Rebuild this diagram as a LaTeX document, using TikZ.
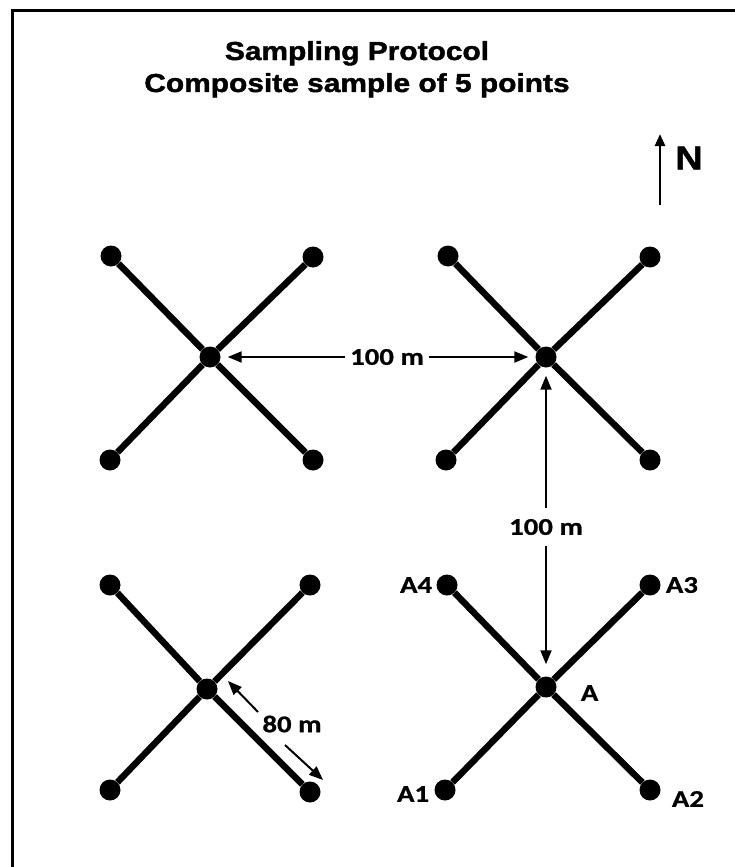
\documentclass[tikz,border=0pt]{standalone}
\usepackage{fontspec}
\newfontfamily\titlefont[FakeStretch=1.15, FakeBold=1.6]{Liberation Sans Bold}
\newfontfamily\labelfont[FakeStretch=1.2, FakeBold=0.8]{Carlito Bold}
\setmainfont{Liberation Sans}
\usetikzlibrary{arrows.meta,positioning}

\begin{document}
\begin{tikzpicture}[
x=1pt, y=-1pt,
dot/.style={circle, fill=black, inner sep=0pt, minimum size=21pt},
arm/.style={line width=6.5pt},
dim/.style={-{Triangle[length=14pt,width=11pt]}, line width=2pt},
ttl/.style={font=\titlefont\fontsize{26}{30}\selectfont, inner sep=0pt, anchor=base},
lbl/.style={font=\labelfont\fontsize{24}{24}\selectfont, inner sep=1pt},
dimlbl/.style={lbl, inner xsep=5pt, inner ysep=11pt}
]
\useasboundingbox (0,0) rectangle (735,867);
\clip (0,0) rectangle (735,867);
\draw[line width=3pt] (12,900) -- (12,11) -- (760,11);

% title
\node[ttl] (title) at (357,60) {Sampling Protocol};
\node[ttl] (subtitle) at (357,92) {Composite sample of 5 points};

% north arrow
\coordinate (ntail) at (660,205);
\coordinate (ntip) at (660,134);
\draw[-{Triangle[length=12pt,width=10pt]}, line width=2.5pt] (ntail) -- (ntip);
\node[font=\titlefont\fontsize{33}{33}\selectfont, inner sep=0pt] (north) at (689,158) {N};

% north-west plot
\node[dot] (nwc) at (210,357) {};
\node[dot] (nw1) at (110,460) {};
\node[dot] (nw2) at (313,460) {};
\node[dot] (nw3) at (313,257) {};
\node[dot] (nw4) at (111,256) {};

% north-east plot
\node[dot] (nec) at (546,357) {};
\node[dot] (ne1) at (446,460) {};
\node[dot] (ne2) at (650,460) {};
\node[dot] (ne3) at (650,257) {};
\node[dot] (ne4) at (448,256) {};

% south-west plot
\node[dot] (swc) at (207,689) {};
\node[dot] (sw1) at (110,790) {};
\node[dot] (sw2) at (310,792) {};
\node[dot] (sw3) at (310,585) {};
\node[dot] (sw4) at (110,585) {};

% south-east plot (A)
\node[dot] (sec) at (546,687) {};
\node[dot] (se1) at (445,790) {};
\node[dot] (se2) at (650,790) {};
\node[dot] (se3) at (650,585) {};
\node[dot] (se4) at (447,585) {};

\foreach \p in {nw,ne,sw,se}
  \foreach \i in {1,2,3,4}
    \draw[arm] (\p c) -- (\p\i);

% point labels
\node[lbl, left=3pt of se4] (a4) {A4};
\node[lbl, right=4pt of se3] (a3) {A3};
\node[lbl, right=23pt of sec, yshift=-6pt] (a) {A};
\node[lbl, left=4pt of se1, yshift=-4pt] (a1) {A1};
\node[lbl, right=10pt of se2, yshift=-9pt] (a2) {A2};

% distances
\node[dimlbl] (dh) at (387,357) {100 m};
\draw[dim, shorten >=7pt] (dh) -- (nwc);
\draw[dim, shorten >=7pt] (dh) -- (nec);

\node[dimlbl] (dv) at (546,527) {100 m};
\draw[dim, shorten >=8pt] (dv) -- (nec);
\draw[dim, shorten >=12pt] (dv) -- (sec);

\node[lbl] (d80) at (292,724) {80 m};
\coordinate (t80a) at (258,712);
\coordinate (h80a) at (228,681);
\coordinate (t80b) at (285,745);
\coordinate (h80b) at (323,780);
\draw[dim] (t80a) -- (h80a);
\draw[dim] (t80b) -- (h80b);
\end{tikzpicture}
\end{document}
